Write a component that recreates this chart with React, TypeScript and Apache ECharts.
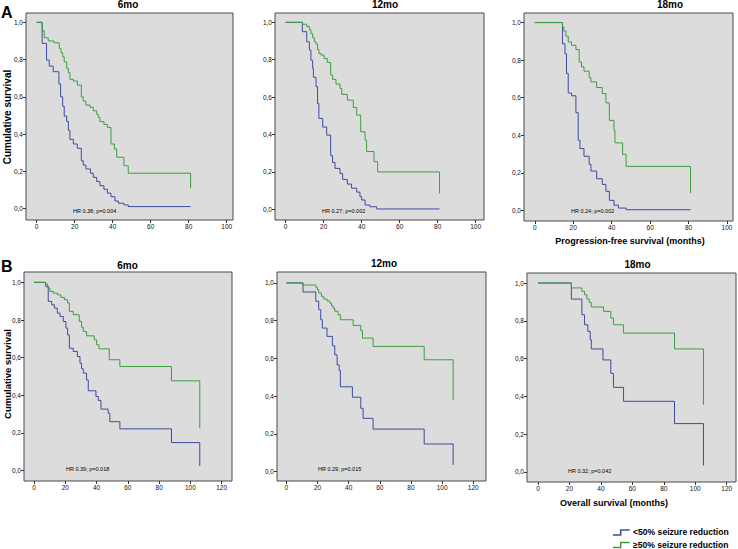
import React, { useEffect, useRef } from 'react';
import * as echarts from 'echarts';

// ---------- DATA ----------
const rowLabels = ['A', 'B'];
const panelTitles = ['6mo', '12mo', '18mo'];
const legendLabels = ['<50% seizure reduction', '\u226550% seizure reduction'];
const yAxisTitle = 'Cumulative survival';
const pfsAxisTitle = 'Progression-free survival (months)';
const osAxisTitle = 'Overall survival (months)';
const hrLabels = [
  'HR 0.38; p=0.004', 'HR 0.27; p=0.002', 'HR 0.24; p=0.002',
  'HR 0.39; p=0.018', 'HR 0.29; p=0.015', 'HR 0.32; p=0.042',
];
const pfsXTicks = [0, 20, 40, 60, 80, 100];
const osXTicks = [0, 20, 40, 60, 80, 100, 120];
const yTicks = [0, 0.2, 0.4, 0.6, 0.8, 1.0];

// Progression-free survival, [months, cumulative survival]
const pfs6Low = [[0,1],[2.9,0.887],[5.2,0.797],[6.6,0.765],[8.7,0.735],[11.7,0.669],[12.6,0.6],[13.7,0.55],[14.5,0.497],[15.8,0.468],[16.7,0.42],[17.5,0.372],[19.3,0.347],[21.4,0.324],[23.5,0.257],[24.5,0.234],[25.9,0.213],[28.3,0.19],[29.8,0.168],[31.6,0.145],[33.3,0.123],[35.4,0.104],[37.2,0.083],[39.1,0.064],[41.2,0.041],[43.0,0.029],[45.9,0.02],[48.2,0.011],[81,0.011]];
const pfs6High = [[0,1],[2.9,0.955],[4.0,0.917],[6.1,0.9],[9.1,0.89],[11.9,0.86],[12.8,0.837],[13.7,0.815],[14.5,0.788],[15.8,0.753],[16.7,0.73],[17.5,0.694],[19.3,0.685],[21.4,0.663],[23.5,0.6],[24.5,0.577],[25.9,0.556],[28.1,0.544],[29.8,0.525],[31.6,0.506],[32.4,0.49],[33.3,0.467],[35.4,0.452],[37.2,0.436],[39.1,0.347],[40.9,0.32],[42.1,0.276],[45.9,0.23],[48.2,0.19],[81,0.109]];
const pfs12Low = [[0,1],[8.8,0.95],[11.1,0.896],[12.5,0.852],[13.3,0.798],[14.2,0.754],[14.6,0.706],[16.0,0.656],[16.8,0.566],[17.5,0.486],[19.5,0.44],[21.6,0.397],[23.7,0.287],[24.7,0.251],[26.0,0.219],[28.6,0.192],[30.0,0.16],[32.5,0.135],[34.7,0.113],[37.4,0.092],[39.1,0.068],[40.0,0.05],[41.8,0.023],[44.4,0.014],[47.9,0.002],[81,0.002]];
const pfs12High = [[0,1],[8.9,0.99],[11.1,0.978],[12.5,0.96],[13.3,0.94],[14.2,0.918],[15.1,0.896],[16.0,0.884],[16.8,0.855],[17.5,0.834],[18.6,0.825],[20.2,0.807],[21.9,0.786],[23.7,0.718],[24.7,0.695],[26.5,0.67],[28.6,0.647],[29.5,0.615],[32.5,0.584],[35.6,0.545],[37.4,0.504],[39.5,0.415],[41.8,0.37],[42.6,0.309],[46.5,0.255],[48.4,0.2],[81,0.085]];
const pfs18Low = [[0,1],[14.4,0.887],[15.7,0.834],[16.5,0.729],[17.4,0.625],[19.1,0.61],[21.4,0.52],[22.6,0.373],[23.5,0.329],[25.6,0.288],[28.3,0.245],[29.2,0.209],[32.2,0.168],[35.1,0.138],[37.0,0.101],[38.8,0.053],[41.2,0.027],[43.5,0.012],[47.5,0.003],[81,0.003]];
const pfs18High = [[0,1],[14.4,0.977],[15.1,0.955],[16.2,0.927],[17.4,0.897],[19.1,0.879],[21.4,0.856],[23.1,0.79],[24.3,0.764],[25.6,0.741],[28.3,0.707],[29.2,0.684],[32.2,0.654],[35.1,0.622],[37.0,0.572],[38.8,0.479],[41.2,0.426],[41.7,0.359],[45.7,0.298],[47.5,0.234],[81,0.092]];

// Overall survival, [months, cumulative survival]
const os6Low = [[0,1],[7.4,0.979],[9.1,0.899],[11.3,0.881],[13.0,0.863],[14.9,0.837],[16.6,0.819],[18.7,0.792],[20.4,0.757],[21.5,0.721],[22.6,0.65],[25.1,0.633],[27.7,0.606],[29.4,0.571],[30.4,0.541],[31.5,0.518],[33.6,0.482],[34.7,0.424],[39.6,0.394],[41.1,0.373],[42.8,0.327],[47.4,0.305],[48.5,0.26],[54.9,0.222],[87.9,0.149],[106,0.025]];
const os6High = [[0,1],[7.4,0.991],[8.7,0.97],[10.2,0.952],[12.3,0.943],[14.9,0.934],[17.2,0.92],[19.4,0.908],[21.5,0.89],[22.6,0.846],[25.1,0.828],[28.9,0.793],[30.4,0.762],[31.5,0.739],[33.6,0.716],[38.5,0.695],[40.0,0.669],[41.5,0.647],[48.1,0.589],[54.9,0.553],[87.9,0.477],[106,0.225]];
const os12Low = [[0,1],[10.7,0.952],[18.9,0.903],[20.8,0.859],[22.1,0.805],[23.1,0.761],[26.1,0.717],[29.6,0.667],[31.1,0.619],[32.6,0.566],[33.9,0.536],[34.7,0.45],[42.4,0.395],[47.8,0.336],[49.3,0.283],[55.7,0.226],[88.5,0.147],[107.1,0.036]];
const os12High = [[0,1],[10.7,0.989],[18.9,0.977],[19.9,0.964],[20.8,0.947],[22.5,0.929],[24.0,0.915],[26.1,0.905],[27.9,0.894],[29.0,0.88],[30.0,0.867],[31.1,0.85],[33.2,0.832],[34.7,0.805],[42.9,0.775],[47.8,0.747],[48.9,0.708],[55.7,0.664],[88.5,0.593],[107.1,0.38]];
const os18Low = [[0,1],[21.2,0.915],[27.9,0.832],[29.6,0.779],[31.7,0.744],[33.2,0.7],[33.9,0.651],[41.3,0.593],[46.3,0.522],[48.0,0.448],[54.4,0.374],[86.8,0.256],[105.2,0.035]];
const os18High = [[0,1],[21.2,0.974],[27.9,0.956],[29.6,0.938],[31.1,0.915],[32.6,0.897],[33.9,0.873],[41.7,0.85],[46.3,0.815],[48.0,0.779],[54.4,0.735],[86.8,0.651],[105.2,0.356]];

// ---------- LAYOUT / STYLE ----------
const BLUE = '#3d4c9e';
const GREEN = '#3e9e3e';
const FONT = '"Liberation Sans", Arial, sans-serif';

const panels = [
  { grid: { left: 26, top: 13, width: 207, height: 207 }, x: [-5.6, 103.3], y: [-0.061, 1.05], ticks: pfsXTicks, low: pfs6Low, high: pfs6High, title: [128, 4.5], hr: [73, 211] },
  { grid: { left: 275, top: 13, width: 209, height: 207 }, x: [-5.6, 104.4], y: [-0.057, 1.05], ticks: pfsXTicks, low: pfs12Low, high: pfs12High, title: [385, 4.5], hr: [322, 211] },
  { grid: { left: 524, top: 13, width: 209, height: 208 }, x: [-5.6, 103.1], y: [-0.057, 1.051], ticks: pfsXTicks, low: pfs18Low, high: pfs18High, title: [670, 4.5], hr: [571, 211] },
  { grid: { left: 24, top: 272, width: 208, height: 209 }, x: [-6.4, 126.6], y: [-0.055, 1.055], ticks: osXTicks, low: os6Low, high: os6High, title: [127.5, 265], hr: [66, 469] },
  { grid: { left: 277, top: 272, width: 209, height: 209 }, x: [-6.0, 128.2], y: [-0.049, 1.058], ticks: osXTicks, low: os12Low, high: os12High, title: [384, 263.5], hr: [318, 469.3] },
  { grid: { left: 527, top: 273, width: 209, height: 209 }, x: [-7, 125.9], y: [-0.053, 1.053], ticks: osXTicks, low: os18Low, high: os18High, title: [637.5, 264], hr: [568, 470.7] },
];

const fmt = (v: number) => v.toFixed(1).replace('.', ',');

function buildOption() {
  const grid = panels.map((p) => ({
    ...p.grid,
    show: true,
    backgroundColor: '#dcdcdc',
    borderColor: '#4a4a4a',
    borderWidth: 1,
    containLabel: false,
  }));
  const xAxis = panels.map((p, i) => ({
    type: 'value',
    gridIndex: i,
    min: p.x[0],
    max: p.x[1],
    splitLine: { show: false },
    axisLine: { show: false, onZero: false },
    axisTick: { show: true, length: 3, customValues: p.ticks, lineStyle: { color: '#333', width: 1 } },
    axisLabel: { customValues: p.ticks, fontSize: 6.5, color: '#111', margin: 3, fontFamily: FONT },
  }));
  const yAxis = panels.map((p, i) => ({
    type: 'value',
    gridIndex: i,
    min: p.y[0],
    max: p.y[1],
    splitLine: { show: false },
    axisLine: { show: false, onZero: false },
    axisTick: { show: true, length: 3, customValues: yTicks, lineStyle: { color: '#333', width: 1 } },
    axisLabel: { customValues: yTicks, fontSize: 6.5, color: '#111', margin: 3, fontFamily: FONT, formatter: (v: number) => fmt(v) },
  }));
  const series: any[] = [];
  panels.forEach((p, i) => {
    series.push({ type: 'line', xAxisIndex: i, yAxisIndex: i, step: 'end', showSymbol: false, data: p.low, lineStyle: { color: BLUE, width: 1 }, itemStyle: { color: BLUE }, silent: true });
    series.push({ type: 'line', xAxisIndex: i, yAxisIndex: i, step: 'end', showSymbol: false, data: p.high, lineStyle: { color: GREEN, width: 1 }, itemStyle: { color: GREEN }, silent: true });
  });

  const txt = (text: string, x: number, y: number, size: number, weight: string, align = 'left', extra: any = {}) => ({
    type: 'text', x, y, silent: true, ...extra,
    style: { text, fontSize: size, fontWeight: weight, fontFamily: FONT, fill: '#000', align, verticalAlign: 'middle' },
  });

  const graphic: any[] = [];
  graphic.push(txt(rowLabels[0], 1, 12.5, 16, 'bold'));
  graphic.push(txt(rowLabels[1], 1, 266, 16, 'bold'));
  panels.forEach((p, i) => {
    graphic.push(txt(panelTitles[i % 3], p.title[0], p.title[1], 10, 'bold', 'center'));
    graphic.push(txt(hrLabels[i], p.hr[0], p.hr[1], 5.5, 'normal'));
  });
  graphic.push(txt(yAxisTitle, 7, 117, 10, 'bold', 'center', { rotation: Math.PI / 2 }));
  graphic.push(txt(yAxisTitle, 7, 374, 9.5, 'bold', 'center', { rotation: Math.PI / 2 }));
  graphic.push(txt(pfsAxisTitle, 630, 241, 9, 'bold', 'center'));
  graphic.push(txt(osAxisTitle, 614, 502.7, 9, 'bold', 'center'));
  // legend
  graphic.push({ type: 'polyline', silent: true, shape: { points: [[613, 535], [620.7, 535], [620.7, 530], [629.7, 530]] }, style: { stroke: BLUE, lineWidth: 1.5, fill: null } });
  graphic.push({ type: 'polyline', silent: true, shape: { points: [[613, 547.5], [620.7, 547.5], [620.7, 542.5], [629.7, 542.5]] }, style: { stroke: GREEN, lineWidth: 1.5, fill: null } });
  graphic.push(txt(legendLabels[0], 633, 532.3, 8.6, 'bold'));
  graphic.push(txt(legendLabels[1], 633, 545.2, 8.6, 'bold'));

  return { animation: false, backgroundColor: '#ffffff', grid, xAxis, yAxis, series, graphic };
}

export default function App() {
  const ref = useRef<HTMLDivElement>(null);
  useEffect(() => {
    if (!ref.current) return;
    const chart = echarts.init(ref.current, undefined, { renderer: 'svg' });
    chart.setOption(buildOption() as any);
    return () => chart.dispose();
  }, []);
  return <div ref={ref} style={{ position: 'absolute', left: 0, top: 0, width: 738, height: 549, background: '#fff' }} />;
}
